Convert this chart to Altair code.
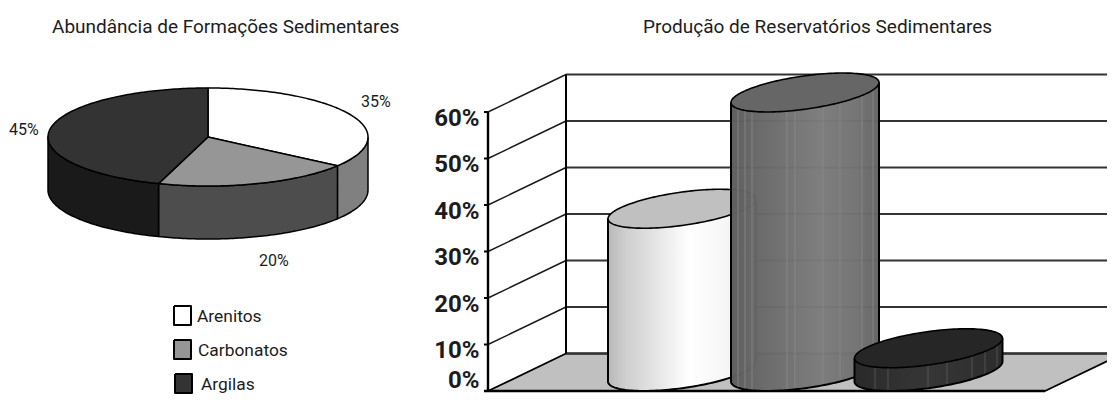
import math
import altair as alt
import pandas as pd

# ---- data
formation_names = ["Arenitos", "Carbonatos", "Argilas"]
abundance = [35, 20, 45]
production = [35, 60, 5]
axis_ticks = [0, 10, 20, 30, 40, 50, 60]
titles = ["Abundância de Formações Sedimentares", "Produção de Reservatórios Sedimentares"]

# ---- styles
top_colors = ["#ffffff", "#969696", "#333333"]
side_colors = ["#808080", "#4d4d4d", "#1a1a1a"]
cap_colors = ["#c0c0c0", "#666666", "#262626"]
body_stops = [
    [(0, "#b8b8b8"), (0.12, "#cfcfcf"), (0.3, "#e2e2e2"), (0.55, "#ffffff"), (0.8, "#f6f6f6"), (1, "#e8e8e8")],
    [(0, "#5c5c5c"), (0.2, "#686868"), (0.6, "#7b7b7b"), (0.85, "#727272"), (1, "#636363")],
    [(0, "#2a2a2a"), (0.5, "#363636"), (1, "#2c2c2c")],
]
body_opacity = [1, 0.975, 1]
streaks = [[], [738, 745, 752, 787, 795, 823, 840, 862, 873], [875, 888, 928, 947, 972, 985, 997]]

FONT = "Roboto"
TXT = "#1c1c1c"
xs = alt.Scale(domain=[8, 1107], range=[0, 1099], nice=False, zero=False)
ys = alt.Scale(domain=[8, 395], range=[0, 387], nice=False, zero=False)
X = alt.X("x:Q", scale=xs, axis=None)
Y = alt.Y("y:Q", scale=ys, axis=None)


def shape(pts, fill=None, stroke="#000000", sw=1.5):
    df = pd.DataFrame({"x": [p[0] for p in pts], "y": [p[1] for p in pts], "i": range(len(pts))})
    kw = {"clip": True, "strokeWidth": sw, "stroke": stroke, "strokeJoin": "round"}
    if fill:
        kw["fill"] = fill
    return alt.Chart(df).mark_line(**kw).encode(x=X, y=Y, order=alt.Order("i:Q"))


def label(x, y, text, align="left", size=19, bold=False, color=TXT):
    df = pd.DataFrame({"x": [x], "y": [y], "t": [text]})
    return alt.Chart(df).mark_text(
        align=align, baseline="middle", font=FONT, fontSize=size, color=color,
        fontWeight="bold" if bold else "normal",
    ).encode(x=X, y=Y, text="t:N")


layers = []

# ---- pie
PX, PY, RX, RY, DEPTH = 208, 137, 160, 49, 53


def rim(a, dy=0):
    r = math.radians(a)
    return (PX + RX * math.sin(r), PY - RY * math.cos(r) + dy)


start = 0
slices = []
for v in abundance:
    end = start + v * 3.6
    slices.append((start, end))
    start = end
for (a0, a1), c in zip(slices, side_colors):
    s0, s1 = max(a0, 90), min(a1, 270)
    if s1 > s0:
        n = int(s1 - s0) + 1
        angs = [s0 + (s1 - s0) * k / (n - 1) for k in range(n)]
        pts = [rim(a) for a in angs] + [rim(a, DEPTH) for a in reversed(angs)]
        layers.append(shape(pts + pts[:1], fill=c))
for (a0, a1), c in zip(slices, top_colors):
    n = int(a1 - a0) + 1
    angs = [a0 + (a1 - a0) * k / (n - 1) for k in range(n)]
    pts = [(PX, PY)] + [rim(a) for a in angs] + [(PX, PY)]
    layers.append(shape(pts, fill=c))

pie_labels = [(361, 102), (9, 130), (259, 261)]
for v, (lx, ly) in zip([abundance[0], abundance[2], abundance[1]], pie_labels):
    layers.append(label(lx, ly, f"{v}%", size=16))

# ---- legend
leg_boxes = [(174, 191, 306, 325), (174, 191, 340, 359), (175, 192, 374, 393)]
leg_text = [(197, 317), (198, 351), (201, 385)]
for name, (x0, x1, y0, y1), (tx, ty), c in zip(formation_names, leg_boxes, leg_text, top_colors):
    layers.append(shape([(x0, y0), (x1, y0), (x1, y1), (x0, y1), (x0, y0)], fill=c, sw=2))
    layers.append(label(tx, ty, name, size=17.4))

layers.append(label(52, 27, titles[0]))
layers.append(label(643, 27, titles[1]))

# ---- 3D axes
AX, BASE, PER10 = 488, 391, 46.5
DX, DY = 78, 37.5
RIGHT_FRONT, RIGHT_BACK = 1045, 1123


def vy(v):
    return BASE - v * PER10 / 10


layers.append(shape([(AX, BASE), (AX + DX, BASE - DY), (RIGHT_BACK, BASE - DY), (RIGHT_FRONT, BASE), (AX, BASE)],
                    fill="#c0c0c0", sw=1.8))
for t in axis_ticks:
    y = vy(t)
    if t:
        layers.append(shape([(AX, y), (AX + DX, y - DY)], stroke="#1a1a1a", sw=1.4))
    layers.append(shape([(AX + DX, y - DY), (RIGHT_BACK, y - DY)], stroke="#333333", sw=1.8))
    layers.append(shape([(AX - 4, y), (AX, y)], sw=2))
    layers.append(label(479.5, min(y + 6.5, 381), f"{t}%", align="right", size=24, bold=True))
layers.append(shape([(AX + DX, vy(0) - DY), (AX + DX, vy(60) - DY)], sw=2))
layers.append(shape([(AX, vy(0)), (AX, vy(60))], sw=2.4))
layers.append(shape([(AX - 4, BASE), (RIGHT_FRONT, BASE)], sw=2.6))

# ---- cylinders
CX = [682, 805, 928.5]
A, SHEAR, B, BASE_CY = 74, 10, 16.7, 371.5
N = 72


def ring(cx, cy, t):
    return (cx + A * math.cos(t), cy - SHEAR * math.cos(t) + B * math.sin(t))


for cx, v, stops, cap, op, marks in zip(CX, production, body_stops, cap_colors, body_opacity, streaks):
    top_cy = BASE_CY - v * PER10 / 10
    ts = [math.pi * k / N for k in range(N + 1)]
    rows = [{"x": ring(cx, BASE_CY, t)[0],
             "y": top_cy - SHEAR * math.cos(t),
             "y2": ring(cx, BASE_CY, t)[1]} for t in ts]
    grad = alt.Gradient(gradient="linear", x1=0, x2=1, y1=0, y2=0,
                        stops=[alt.GradientStop(offset=o, color=c) for o, c in stops])
    layers.append(alt.Chart(pd.DataFrame(rows)).mark_area(fill=grad, opacity=op, clip=True).encode(
        x=X, y=Y, y2=alt.Y2("y2:Q")))
    for mx in marks:
        ct = (mx - cx) / A
        st = math.sqrt(max(0, 1 - ct * ct))
        yb = BASE_CY - SHEAR * ct + B * st
        yt = top_cy - SHEAR * ct + B * st
        layers.append(shape([(mx, yt), (mx, yb)], stroke="#8c8c8c" if v > 10 else "#5a5a5a", sw=0.8))
    front = [ring(cx, BASE_CY, t) for t in ts]
    lp, rp = ring(cx, top_cy, math.pi), ring(cx, top_cy, 0)
    layers.append(shape([lp] + front[::-1] + [rp], sw=2))
    all_ts = [2 * math.pi * k / (2 * N) for k in range(2 * N + 1)]
    layers.append(shape([ring(cx, top_cy, t) for t in all_ts], fill=cap, sw=1.6))

chart = alt.layer(*layers).properties(
    width=1099, height=387, padding=0,
    autosize=alt.AutoSizeParams(type="none"),
    background="#ffffff",
).configure_view(stroke=None)

chart.save("out.html", embed_options={"renderer": "svg", "actions": False})
